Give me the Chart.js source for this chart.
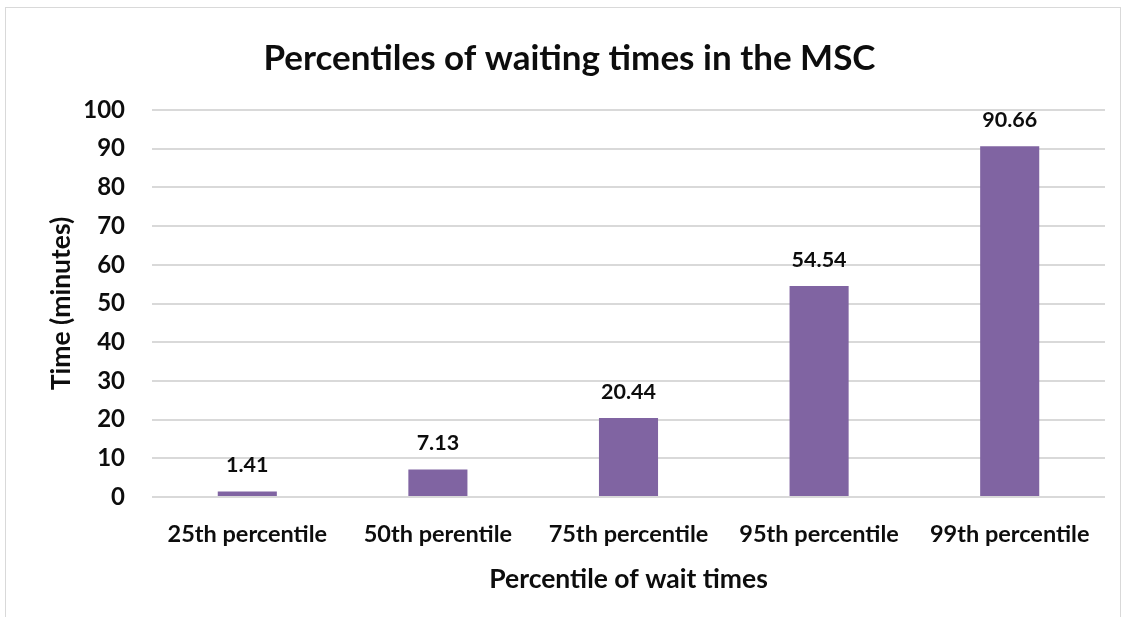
<!DOCTYPE html>
<html>
<head>
<meta charset="utf-8">
<script src="https://cdn.jsdelivr.net/npm/chart.js@4"></script>
<style>
  html, body { margin: 0; padding: 0; background: #fff; overflow: hidden; }
  #box {
    position: absolute; left: 5px; top: 7px;
    width: 1114px; height: 620px;
    border: 1px solid #d9d9d9;
  }
</style>
</head>
<body>
<div id="box"><canvas id="chart"></canvas></div>
<script>
const categories = ['25th percentile', '50th perentile', '75th percentile', '95th percentile', '99th percentile'];
const waitMinutes = [1.41, 7.13, 20.44, 54.54, 90.66];
const yTicks = [0, 10, 20, 30, 40, 50, 60, 70, 80, 90, 100];

const fontFamily = 'Lato, "Open Sans", sans-serif';

// draws the value above each bar
const barValues = {
  id: 'barValues',
  afterDatasetsDraw(chart) {
    const ctx = chart.ctx;
    const meta = chart.getDatasetMeta(0);
    ctx.save();
    ctx.font = 'bold 21.5px ' + fontFamily;
    ctx.fillStyle = '#0d0d0d';
    ctx.textAlign = 'center';
    ctx.textBaseline = 'middle';
    meta.data.forEach((bar, i) => {
      ctx.fillText(waitMinutes[i].toFixed(2), bar.x, bar.y - 26);
    });
    ctx.restore();
  }
};

new Chart(document.getElementById('chart'), {
  type: 'bar',
  data: {
    labels: categories,
    datasets: [{
      data: waitMinutes,
      backgroundColor: '#8064a2',
      categoryPercentage: 1,
      barPercentage: 0.31
    }]
  },
  options: {
    responsive: true,
    maintainAspectRatio: false,
    animation: false,
    layout: { padding: { left: 28, right: 15, top: 0, bottom: 33 } },
    plugins: {
      legend: { display: false },
      tooltip: { enabled: false },
      title: {
        display: true,
        text: 'Percentiles of waiting times in the MSC',
        color: '#0d0d0d',
        font: { family: fontFamily, size: 35, weight: 'bold' },
        padding: { top: 30, bottom: 30 }
      }
    },
    scales: {
      x: {
        grid: { display: false },
        border: { display: false },
        ticks: {
          color: '#0d0d0d',
          padding: 15,
          maxRotation: 0,
          font: { family: fontFamily, size: 23.5, weight: 'bold' }
        },
        title: {
          display: true,
          text: 'Percentile of wait times',
          color: '#0d0d0d',
          padding: { top: 0, bottom: 0 },
          font: { family: fontFamily, size: 26.5, weight: 'bold' }
        }
      },
      y: {
        min: 0,
        max: 100,
        afterBuildTicks(axis) { axis.ticks = yTicks.map(v => ({ value: v })); },
        afterFit(axis) { axis.width = 118; },
        grid: { color: '#d9d9d9', lineWidth: 2, drawTicks: false },
        border: { display: false },
        ticks: {
          color: '#0d0d0d',
          padding: 27,
          font: { family: fontFamily, size: 24, weight: 'bold' }
        },
        title: {
          display: true,
          text: 'Time (minutes)',
          color: '#0d0d0d',
          padding: { top: 12, bottom: 0 },
          font: { family: fontFamily, size: 26.5, weight: 'bold' }
        }
      }
    }
  },
  plugins: [barValues]
});
</script>
</body>
</html>
